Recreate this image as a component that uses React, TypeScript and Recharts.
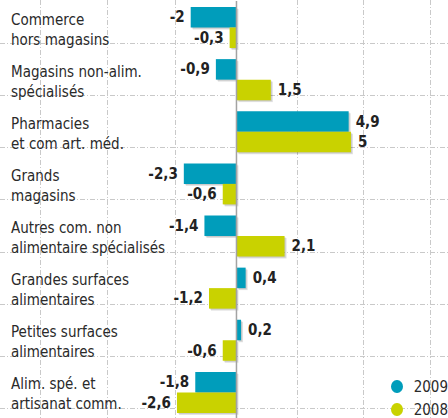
import React from 'react';
import {
  BarChart,
  Bar,
  XAxis,
  YAxis,
  ReferenceLine,
  LabelList,
  Legend,
  Rectangle,
} from 'recharts';

const lineOne = [
  'Commerce',
  'Magasins non-alim.',
  'Pharmacies',
  'Grands',
  'Autres com. non',
  'Grandes surfaces',
  'Petites surfaces',
  'Alim. spé. et',
];
const lineTwo = [
  'hors magasins',
  'spécialisés',
  'et com art. méd.',
  'magasins',
  'alimentaire spécialisés',
  'alimentaires',
  'alimentaires',
  'artisanat comm.',
];
const values2009 = [-2, -0.9, 4.9, -2.3, -1.4, 0.4, 0.2, -1.8];
const values2008 = [-0.3, 1.5, 5, -0.6, 2.1, -1.2, -0.6, -2.6];
const gridValues = [-8.58, -5.66, -2.69, 2.64, 5.52, 8.45];

const TEAL = '#009dbb';
const LIME = '#c9d200';
const GRID = '#c9c9c9';
const DASH = '5 2 1 2';
const FONT = '"Liberation Sans Narrow", "DejaVu Sans Condensed", "Roboto", sans-serif';

const series = [
  { key: 'y2009', name: '2009', color: TEAL },
  { key: 'y2008', name: '2008', color: LIME },
];

const data = lineOne.map((l1, i) => ({
  name: `${l1} ${lineTwo[i]}`,
  l1,
  l2: lineTwo[i],
  y2009: values2009[i],
  y2008: values2008[i],
}));

const fmt = (v: number) => String(v).replace('.', ',');

// category names, placed from the 2009 bar (its bottom edge is the row centre)
const CategoryLabel = ({ y, height, index }: any) => {
  const mid = y + height;
  return (
    <text fontFamily={FONT} fontSize={15} fill="#2a2a2a">
      <tspan x={11} y={mid - 3}>{data[index]?.l1}</tspan>
      <tspan x={11} y={mid + 17}>{data[index]?.l2}</tspan>
    </text>
  );
};

const ValueLabel = ({ x, y, width, height, value }: any) => {
  const v = Number(value);
  const neg = v < 0;
  const end = x + width;
  return (
    <text
      x={neg ? end - 6 : end + 7}
      y={y + height / 2}
      dy={5}
      textAnchor={neg ? 'end' : 'start'}
      fontFamily={FONT}
      fontWeight="bold"
      fontSize={15}
      fill="#222"
    >
      {fmt(v)}
    </text>
  );
};

const Shadowed = ({ x, y, width, height, fill }: any) => {
  const left = Math.min(x, x + width);
  const w = Math.abs(width);
  return (
    <g>
      <rect x={left + 2} y={y + 2} width={w} height={height} fill="#000" opacity={0.12} />
      <rect x={left + 1} y={y + 1} width={w} height={height} fill="#000" opacity={0.1} />
      <Rectangle x={x} y={y} width={width} height={height} fill={fill} />
    </g>
  );
};

// 2008 bar with the dashed row rule drawn underneath it
const LimeBar = (props: any) => {
  const ruleY = Math.round(props.y + props.height - 5) + 0.5;
  return (
    <g>
      <line x1={0} x2={448} y1={ruleY} y2={ruleY} stroke={GRID} strokeWidth={1} strokeDasharray={DASH} />
      <Shadowed {...props} />
    </g>
  );
};

// pixel-snapped dashed vertical rule
const VRule = ({ x1, y1, y2 }: any) => {
  const px = Math.round(x1) + 0.5;
  return <line x1={px} x2={px} y1={0} y2={Math.max(y1, y2)} stroke={GRID} strokeWidth={1} strokeDasharray={DASH} />;
};

const renderLegend = () => (
  <div style={{ fontFamily: FONT, fontSize: 15, color: '#2a2a2a' }}>
    {series.map((s) => (
      <div key={s.key} style={{ display: 'flex', alignItems: 'center', height: 23, whiteSpace: 'nowrap' }}>
        <span
          style={{
            display: 'inline-block',
            width: 13,
            height: 13,
            borderRadius: '50%',
            background: s.color,
            marginRight: 11,
          }}
        />
        {s.name}
      </div>
    ))}
  </div>
);

export default function App() {
  return (
    <div style={{ position: 'absolute', left: 0, top: 0, width: 448, height: 418, background: '#fff' }}>
      <BarChart
        width={448}
        height={418}
        data={data}
        layout="vertical"
        margin={{ top: 1, right: 0, bottom: 0, left: 0 }}
        barSize={20.5}
        barGap={0}
      >
        <XAxis type="number" domain={[-10.33, 9.24]} allowDataOverflow hide />
        <YAxis type="category" dataKey="name" hide />
        {gridValues.map((g) => (
          <ReferenceLine key={g} x={g} shape={<VRule />} zIndex={-50} />
        ))}
        <Bar dataKey="y2009" name="2009" fill={TEAL} shape={<Shadowed />} isAnimationActive={false}>
          <LabelList dataKey="l1" content={<CategoryLabel />} />
          <LabelList dataKey="y2009" content={<ValueLabel />} />
        </Bar>
        <Bar dataKey="y2008" name="2008" fill={LIME} shape={<LimeBar />} isAnimationActive={false}>
          <LabelList dataKey="y2008" content={<ValueLabel />} />
        </Bar>
        <ReferenceLine x={0} stroke="#a3a3a3" strokeWidth={1.5} />
        <Legend
          layout="vertical"
          align="center"
          verticalAlign="middle"
          content={renderLegend}
          wrapperStyle={{ left: 391, top: 375, width: 57 }}
        />
      </BarChart>
    </div>
  );
}
